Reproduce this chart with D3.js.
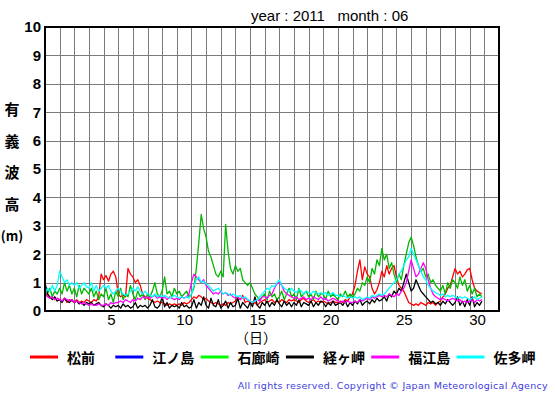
<!DOCTYPE html>
<html>
<head>
<meta charset="utf-8">
<script src="https://cdn.jsdelivr.net/npm/d3@7"></script>
<style>
  body { margin: 0; background: #fff; }
  svg { display: block; }
</style>
</head>
<body>
<div id="chart"></div>
<script>
// Stations (legend order) and line colours
const stations = ["松前", "江ノ島", "石廊崎", "経ヶ岬", "福江島", "佐多岬"];
const lineColors = ["#ff0000", "#0000ff", "#00b800", "#000000", "#ff00ff", "#00ffff"];
const legendColors = ["#ff0000", "#0000ff", "#00ff00", "#000000", "#ff00ff", "#00ffff"];

// Significant wave height (m), every 4 hours from June 1 00:00, one row per day
const matsumae = [
  0.5,0.6,0.45,0.5,0.4,0.45, 0.4,0.35,0.45,0.3,0.4,0.35, 0.3,0.4,0.3,0.35,0.3,0.4,
  0.35,0.3,0.4,0.35,0.5,1.3, 1.1,1.25,1.05,1.3,1.4,1.2, 0.6,0.5,0.55,0.5,1.5,1.3,
  1.2,1.0,1.1,0.9,0.6,0.5, 0.45,0.4,0.35,0.3,0.35,0.3, 0.3,0.25,0.2,0.25,0.2,0.25,
  0.2,0.25,0.2,0.3,0.25,0.3, 0.4,0.5,0.45,0.55,0.5,0.4, 0.45,0.35,0.3,0.25,0.3,0.25,
  0.2,0.25,0.2,0.3,0.25,0.3, 0.35,0.5,0.4,0.55,0.3,0.35, 0.3,0.25,0.3,0.2,0.3,0.35,
  0.4,0.3,0.35,0.4,0.3,0.35, 0.3,0.4,0.35,0.3,0.4,0.35, 0.4,0.35,0.3,0.4,0.45,0.35,
  0.3,0.35,0.4,0.3,0.35,0.3, 0.35,0.3,0.25,0.3,0.35,0.3, 0.3,0.35,0.3,0.4,0.35,0.5,
  0.6,0.9,1.4,1.8,1.1,1.55, 1.3,1.2,0.8,0.6,0.75,1.0, 1.4,1.2,1.6,1.3,1.5,1.6,
  1.2,0.9,0.8,0.7,0.5,0.3, 0.25,0.2,0.25,0.2,0.3,0.25, 0.2,0.3,0.25,0.3,0.2,0.3,
  0.35,0.5,0.6,0.8,0.9,1.2, 1.5,1.3,1.4,1.2,1.3,1.45, 1.5,1.1,0.8,0.7,0.65,0.6
];
const enoshima = [];
const irozaki = [
  0.9,0.6,0.8,0.5,0.7,0.6, 0.8,0.6,1.0,0.7,0.9,0.6, 0.8,0.5,0.9,0.6,0.8,0.7,
  0.6,0.8,0.5,0.7,0.4,0.6, 0.5,0.8,0.4,0.6,0.3,0.7, 0.5,0.8,0.4,0.6,0.5,0.9,
  0.6,0.4,0.7,0.5,0.6,0.4, 0.6,0.5,0.7,1.0,0.6,0.5, 0.7,1.2,0.6,0.7,0.5,0.8,
  0.6,0.7,0.5,0.6,0.7,0.5, 0.6,0.8,1.5,2.4,3.4,2.9, 2.6,2.1,1.9,1.6,1.3,1.2,
  1.4,1.2,3.05,2.1,1.5,1.3, 1.6,1.4,1.5,1.1,1.0,0.9, 1.0,0.8,0.6,0.5,0.4,0.5,
  0.6,0.4,0.7,0.5,0.6,0.4, 0.5,0.7,0.4,0.6,0.8,0.5, 0.6,0.4,0.8,0.5,0.6,0.7,
  0.5,0.6,0.4,0.7,0.5,0.6, 0.6,0.4,0.7,0.5,0.6,0.5, 0.4,0.6,0.5,0.7,0.5,0.6,
  0.5,0.6,0.8,0.7,1.0,0.9, 1.2,1.0,1.5,1.3,1.8,1.6, 2.2,1.8,2.0,1.5,1.7,1.3,
  1.0,1.3,1.1,1.6,2.0,2.4, 2.6,2.3,1.9,1.6,1.4,1.5, 1.2,1.3,1.0,1.1,0.9,0.8,
  0.7,0.9,0.6,1.0,0.8,1.1, 1.0,0.8,1.2,0.9,1.1,0.7, 0.9,0.6,0.8,0.5,0.6,0.5
];
const kyogamisaki = [
  1.0,0.6,0.5,0.4,0.5,0.35, 0.4,0.3,0.45,0.35,0.3,0.4, 0.3,0.35,0.25,0.3,0.2,0.3,
  0.25,0.3,0.2,0.25,0.3,0.2, 0.15,0.25,0.2,0.1,0.2,0.15, 0.2,0.1,0.25,0.15,0.2,0.1,
  0.15,0.3,0.1,0.2,0.15,0.2, 0.1,0.2,0.4,0.15,0.1,0.2, 0.5,0.15,0.3,0.1,0.2,0.15,
  0.2,0.1,0.3,0.15,0.2,0.1, 0.15,0.4,0.1,0.3,0.2,0.5, 0.2,0.1,0.45,0.2,0.15,0.4,
  0.1,0.2,0.35,0.1,0.3,0.15, 0.2,0.45,0.1,0.3,0.2,0.1, 0.3,0.15,0.5,0.2,0.1,0.3,
  0.2,0.35,0.15,0.3,0.2,0.4, 0.25,0.15,0.35,0.2,0.3,0.15, 0.3,0.2,0.4,0.15,0.3,0.25,
  0.2,0.35,0.15,0.3,0.2,0.35, 0.3,0.15,0.3,0.2,0.35,0.2, 0.25,0.3,0.2,0.35,0.15,0.3,
  0.2,0.35,0.25,0.4,0.2,0.3, 0.35,0.25,0.4,0.3,0.45,0.35, 0.4,0.5,0.35,0.6,0.5,0.7,
  0.6,0.8,0.7,1.0,1.3,1.0, 0.7,0.8,1.1,0.9,0.7,0.6, 0.5,0.4,0.3,0.35,0.25,0.3,
  0.2,0.35,0.25,0.4,0.3,0.2, 0.3,0.5,0.2,0.35,0.15,0.4, 0.2,0.5,0.15,0.3,0.2,0.35
];
const fukuejima = [
  0.6,0.5,0.45,0.5,0.4,0.45, 0.4,0.35,0.45,0.4,0.35,0.4, 0.3,0.35,0.3,0.25,0.3,0.25,
  0.2,0.25,0.2,0.2,0.25,0.2, 0.2,0.25,0.2,0.3,0.25,0.3, 0.3,0.35,0.3,0.4,0.35,0.3,
  0.4,0.35,0.45,0.4,0.5,0.45, 0.5,0.45,0.5,0.55,0.45,0.5, 0.45,0.5,0.4,0.5,0.45,0.4,
  0.45,0.4,0.5,0.45,0.5,0.6, 1.0,1.3,1.2,1.1,1.0,1.1, 0.9,0.8,0.7,0.6,0.65,0.6,
  0.7,0.6,0.65,0.55,0.6,0.5, 0.45,0.5,0.4,0.5,0.45,0.4, 0.35,0.3,0.35,0.4,0.35,0.5,
  0.5,0.45,0.55,0.6,0.8,0.95, 1.0,0.9,0.7,0.6,0.55,0.5, 0.45,0.5,0.4,0.45,0.5,0.4,
  0.45,0.4,0.5,0.45,0.4,0.5, 0.4,0.45,0.35,0.4,0.45,0.4, 0.35,0.3,0.35,0.3,0.35,0.3,
  0.3,0.35,0.3,0.4,0.35,0.4, 0.45,0.4,0.5,0.45,0.5,0.55, 0.5,0.55,0.5,0.6,0.55,0.5,
  0.6,0.55,0.7,0.8,1.0,1.4, 1.8,1.5,1.2,1.3,1.5,1.7, 1.5,1.1,0.8,0.6,0.5,0.45,
  0.4,0.45,0.4,0.35,0.4,0.45, 0.4,0.35,0.4,0.3,0.35,0.3, 0.35,0.4,0.3,0.4,0.35,0.4
];
const satamisaki = [
  0.6,0.8,0.7,0.9,0.7,0.9, 1.4,1.2,1.0,1.1,0.9,1.0, 0.9,1.0,0.8,0.9,1.0,0.85,
  0.8,1.0,0.7,0.9,0.7,0.8, 0.9,0.8,0.9,0.7,0.6,0.7, 0.8,0.7,0.6,0.55,0.6,0.7,
  0.8,0.7,0.85,0.7,0.6,0.7, 0.6,0.55,0.5,0.6,0.5,0.55, 0.5,0.55,0.5,0.45,0.5,0.55,
  0.5,0.45,0.5,0.45,0.5,0.45, 0.6,0.9,1.1,1.2,1.0,1.05, 0.95,0.9,0.8,0.7,0.75,0.8,
  0.7,0.6,0.65,0.6,0.55,0.6, 0.55,0.5,0.55,0.45,0.5,0.4, 0.35,0.3,0.35,0.4,0.5,0.6,
  0.7,0.8,0.75,0.9,0.85,1.0, 1.1,0.9,0.8,0.75,0.7,0.8, 0.7,0.65,0.75,0.7,0.6,0.7,
  0.65,0.6,0.7,0.65,0.6,0.65, 0.6,0.65,0.55,0.6,0.65,0.55, 0.55,0.5,0.55,0.5,0.45,0.5,
  0.45,0.5,0.45,0.5,0.4,0.45, 0.5,0.45,0.55,0.5,0.55,0.6, 0.55,0.6,0.7,0.8,0.9,1.0,
  1.1,1.3,1.4,1.6,1.8,1.9, 2.2,2.0,1.8,1.6,1.4,1.2, 1.1,0.9,0.8,0.7,0.65,0.6,
  0.55,0.6,0.5,0.55,0.5,0.55, 0.5,0.45,0.5,0.45,0.5,0.45, 0.4,0.45,0.5,0.4,0.45,0.5
];
const seriesValues = [matsumae, enoshima, irozaki, kyogamisaki, fukuejima, satamisaki];

const stepHours = 4;
const dayTickValues = [5, 10, 15, 20, 25, 30];
const heightTicks = [0, 1, 2, 3, 4, 5, 6, 7, 8, 9, 10];
const yTitleChars = ["有", "義", "波", "高", "(m)"];

const w = 555;
const h = 395;
const plotLeft = 45, plotRight = 499, plotTop = 27, plotBottom = 311;

const jpFont = "'Noto Sans CJK JP', sans-serif";
const numFont = "'Liberation Sans', Arial, sans-serif";

const xScale = d3.scaleLinear().domain([0, 31]).range([plotLeft, plotRight]);
const yScale = d3.scaleLinear().domain([0, 10]).range([plotBottom, plotTop]);

const svg = d3.select("#chart")
  .append("svg")
  .attr("width", w)
  .attr("height", h);

// grid
svg.append("g")
  .selectAll("line")
  .data(d3.range(1, 31))
  .enter()
  .append("line")
  .attr("x1", d => Math.round(xScale(d)) + 0.5)
  .attr("x2", d => Math.round(xScale(d)) + 0.5)
  .attr("y1", plotTop)
  .attr("y2", plotBottom)
  .attr("stroke", "#7a7a7a")
  .attr("stroke-width", 1);

svg.append("g")
  .selectAll("line")
  .data(d3.range(1, 10))
  .enter()
  .append("line")
  .attr("x1", plotLeft)
  .attr("x2", plotRight)
  .attr("y1", d => Math.round(yScale(d)) + 0.5)
  .attr("y2", d => Math.round(yScale(d)) + 0.5)
  .attr("stroke", "#7a7a7a")
  .attr("stroke-width", 1);

// series lines
const line = d3.line()
  .x((d, i) => xScale(i * stepHours / 24))
  .y(d => yScale(d));

seriesValues.forEach((vals, k) => {
  if (!vals.length) return;
  svg.append("path")
    .datum(vals)
    .attr("fill", "none")
    .attr("stroke", lineColors[k])
    .attr("stroke-width", 1.3)
    .attr("stroke-linejoin", "round")
    .attr("d", line);
});

// frame
svg.append("rect")
  .attr("x", plotLeft)
  .attr("y", plotTop)
  .attr("width", plotRight - plotLeft)
  .attr("height", plotBottom - plotTop)
  .attr("fill", "none")
  .attr("stroke", "#000")
  .attr("stroke-width", 2);

// y axis labels
const yAxis = d3.axisLeft(yScale).tickValues(heightTicks).tickSize(0).tickPadding(4);
const gy = svg.append("g")
  .attr("transform", `translate(${plotLeft}, 0)`)
  .call(yAxis);
gy.select(".domain").remove();
gy.selectAll("text")
  .attr("font-family", numFont)
  .attr("font-weight", "bold")
  .attr("font-size", 15)
  .attr("fill", "#000");

// x axis labels, centred in each day cell
const xAxis = d3.axisBottom(xScale)
  .tickValues(dayTickValues.map(d => d - 0.5))
  .tickFormat(d => d3.format("d")(d + 0.5))
  .tickSize(0)
  .tickPadding(3);
const gx = svg.append("g")
  .attr("transform", `translate(0, ${plotBottom})`)
  .call(xAxis);
gx.select(".domain").remove();
gx.selectAll("text")
  .attr("font-family", numFont)
  .attr("font-size", 15)
  .attr("fill", "#000");

svg.append("text")
  .attr("x", 256)
  .attr("y", 343)
  .attr("text-anchor", "middle")
  .attr("font-family", jpFont)
  .attr("font-size", 14)
  .text("（日）");

// y title, one character per line
svg.append("g")
  .selectAll("text")
  .data(yTitleChars)
  .enter()
  .append("text")
  .attr("x", 12)
  .attr("y", (d, i) => 115 + i * 31.5)
  .attr("text-anchor", "middle")
  .attr("font-family", jpFont)
  .attr("font-weight", "bold")
  .attr("font-size", d => d.length > 1 ? 13 : 15)
  .text(d => d);

// header
svg.append("text")
  .attr("x", 251)
  .attr("y", 21)
  .attr("font-family", numFont)
  .attr("font-size", 15)
  .attr("xml:space", "preserve")
  .text("year : 2011   month : 06");

// legend
const legend = svg.append("g")
  .selectAll("g")
  .data(stations)
  .enter()
  .append("g")
  .attr("transform", (d, i) => `translate(${30 + i * 85.3}, 357)`);

legend.append("line")
  .attr("x1", 0)
  .attr("x2", 28)
  .attr("stroke", (d, i) => legendColors[i])
  .attr("stroke-width", 3);

legend.append("text")
  .attr("x", 37)
  .attr("y", 5.5)
  .attr("font-family", jpFont)
  .attr("font-weight", "bold")
  .attr("font-size", 14)
  .text(d => d);

// copyright
svg.append("text")
  .attr("x", 548)
  .attr("y", 389)
  .attr("text-anchor", "end")
  .attr("font-family", "'DejaVu Sans', sans-serif")
  .attr("font-size", 9.5)
  .attr("letter-spacing", 0.3)
  .attr("fill", "#4040e0")
  .text("All rights reserved. Copyright © Japan Meteorological Agency");
</script>
</body>
</html>
